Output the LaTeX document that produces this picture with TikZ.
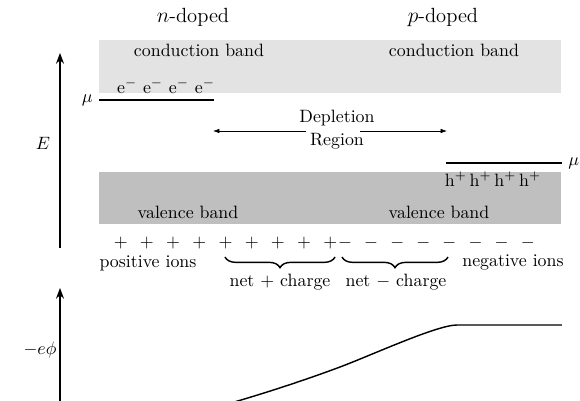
\documentclass[tikz,border=0pt]{standalone}
\usetikzlibrary{arrows.meta,decorations.pathreplacing}
\begin{document}
\begin{tikzpicture}[x=0.56pt,y=-0.56pt,
  axis/.style={thick,-{Stealth[length=6pt,width=4.5pt]}},
  level/.style={thick},
  darr/.style={-{Latex[length=3.6pt,width=2.6pt]}},
  brc/.style={thick,decorate,decoration={brace,mirror,amplitude=6pt}},
  head/.style={font=\fontsize{11.5}{14}\selectfont},
  chg/.style={inner sep=0pt}]
\useasboundingbox (0,0) rectangle (580,401);

% bands
\fill[black!11] (99,40) rectangle (561,93);
\fill[black!25] (99,172) rectangle (561,224);

% headings
\node[head] (nd) at (193,17) {$n$-doped};
\node[head] (pd) at (443,17) {$p$-doped};

% band labels
\node (cbL) at (199,50) {conduction band};
\node (cbR) at (454,50) {conduction band};
\node (vbL) at (188,212) {valence band};
\node (vbR) at (439,212) {valence band};

% energy axis
\coordinate (eBot) at (60,248);
\coordinate (eTop) at (60,53);
\draw[axis] (eBot) -- (eTop);
\node (E) at (43,143) {$E$};

% chemical potential, n side
\coordinate (muLa) at (99,100);
\coordinate (muLb) at (214,100);
\draw[level] (muLa) -- (muLb);
\node[anchor=east] (muL) at (muLa) {$\mu$};
\node (el) at (166,86) {e$^-$ e$^-$ e$^-$ e$^-$};

% chemical potential, p side
\coordinate (muRa) at (446,163);
\coordinate (muRb) at (562,163);
\draw[level] (muRa) -- (muRb);
\node[anchor=west] (muR) at (muRb) {$\mu$};
\node (ho) at (493,179) {h$^+$\,h$^+$\,h$^+$\,h$^+$};

% depletion region
\node[align=center,inner sep=0pt] (dep) at (337,130) {Depletion\\[1pt]Region};
\coordinate (depLs) at (306,131);
\coordinate (depLe) at (213,131);
\coordinate (depRs) at (360,131);
\coordinate (depRe) at (447,131);
\draw[darr] (depLs) -- (depLe);
\draw[darr] (depRs) -- (depRe);

% fixed charges
\foreach \i in {0,...,8}
  \node[chg] (p\i) at ({120.7+26.2*\i},243) {$+$};
\foreach \i in {0,...,7}
  \node[chg] (m\i) at ({345+26.1*\i},243) {$-$};
\node (pion) at (148,263) {positive ions};
\node (nion) at (513,262) {negative ions};

% net charge braces
\coordinate (b1a) at (225,257);
\coordinate (b1b) at (335,257);
\coordinate (b2a) at (342,257);
\coordinate (b2b) at (448,257);
\draw[brc] (b1a) -- (b1b);
\draw[brc] (b2a) -- (b2b);
\node (netp) at (280,282) {net $+$ charge};
\node (netm) at (396,282) {net $-$ charge};

% potential energy axis and profile
\coordinate (phBot) at (60,405);
\coordinate (phTop) at (60,288);
\draw[axis] (phBot) -- (phTop);
\node (phi) at (40,350) {$-e\phi$};
\coordinate (c0) at (213,408);
\coordinate (c1) at (340,367);
\coordinate (c2) at (457,325);
\coordinate (c3) at (562,325);
\draw[thick] (c0) .. controls (250,398) and (300,382) .. (c1)
  .. controls (372,355) and (437,325) .. (c2) -- (c3);
\end{tikzpicture}
\end{document}
